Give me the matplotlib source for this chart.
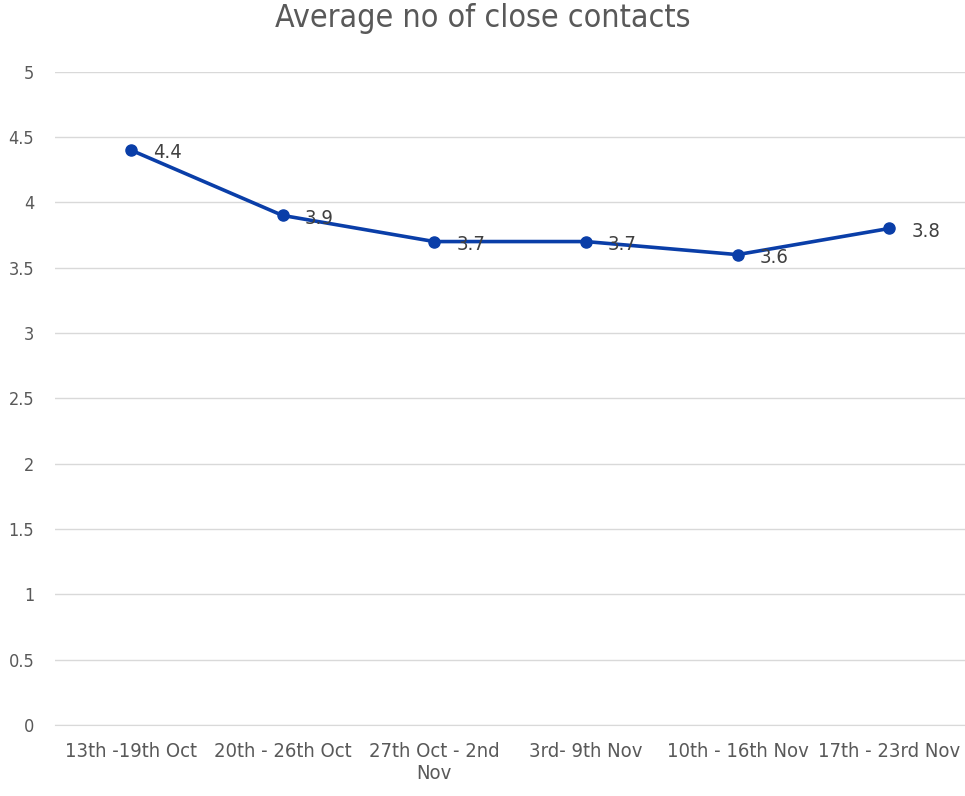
import numpy as np
import matplotlib.pyplot as plt

plt.rcParams['font.family'] = ['DejaVu Sans']
plt.rcParams['font.stretch'] = 'condensed'

weeks = ["13th -19th Oct", "20th - 26th Oct", "27th Oct - 2nd\nNov",
         "3rd- 9th Nov", "10th - 16th Nov", "17th - 23rd Nov"]
avg_contacts = [4.4, 3.9, 3.7, 3.7, 3.6, 3.8]
yticks = [0, 0.5, 1, 1.5, 2, 2.5, 3, 3.5, 4, 4.5, 5]
ytick_labels = ["0", "0.5", "1", "1.5", "2", "2.5", "3", "3.5", "4", "4.5", "5"]

grey = "#595959"
blue = "#0A3EA8"

fig = plt.figure(figsize=(9.65, 7.96), dpi=100)
ax = fig.add_axes([0.057, 0.089, 0.943, 0.821])

x = np.arange(len(weeks))
ax.plot(x, avg_contacts, color=blue, linewidth=2.6, marker='o', markersize=8, zorder=3)
for xi, v in zip(x, avg_contacts):
    ax.annotate(f"{v}", (xi, v), xytext=(16, -2), textcoords='offset points',
                va='center', ha='left', fontsize=14.5, color="#404040")

ax.set_xlim(-0.5, len(weeks) - 0.5)
ax.set_ylim(0, 5)
ax.set_yticks(yticks)
ax.set_yticklabels(ytick_labels)
ax.set_xticks(x)
ax.set_xticklabels(weeks)
ax.grid(axis='y', color='#d9d9d9', linewidth=1)
ax.set_axisbelow(True)
for s in ['top', 'right', 'left']:
    ax.spines[s].set_visible(False)
ax.spines['bottom'].set_color('#d9d9d9')
ax.tick_params(length=0, colors=grey)
ax.tick_params(axis='y', pad=15, labelsize=13)
ax.tick_params(axis='x', pad=12, labelsize=14.5)
fig.text(0.5, 0.977, "Average no of close contacts", ha='center', va='center',
         fontsize=23, color=grey)

plt.savefig("out.png")
